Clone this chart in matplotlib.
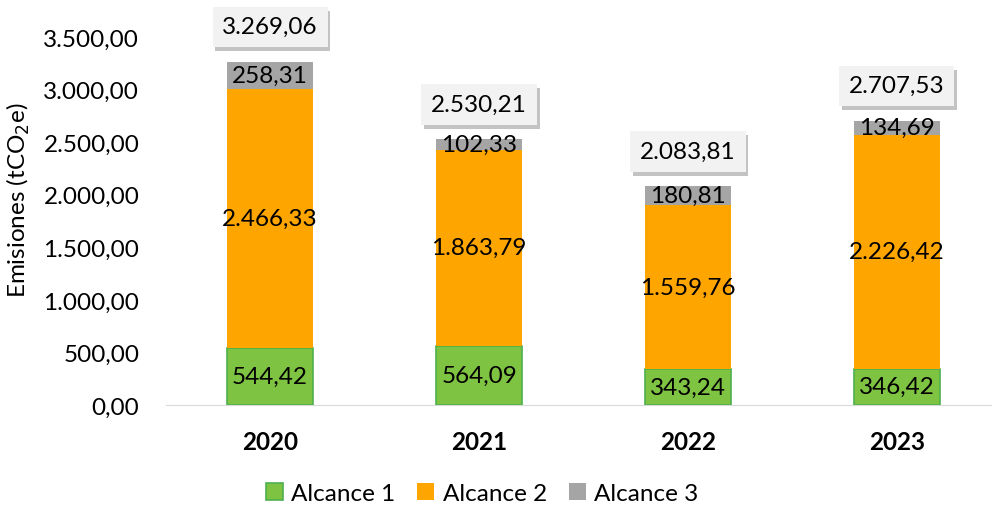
import numpy as np
import matplotlib.pyplot as plt
import matplotlib.patheffects as pe

plt.rcParams['font.family'] = ['Lato', 'DejaVu Sans']

years = ['2020', '2021', '2022', '2023']
alcance1 = [544.42, 564.09, 343.24, 346.42]
alcance2 = [2466.33, 1863.79, 1559.76, 2226.42]
alcance3 = [258.31, 102.33, 180.81, 134.69]
totales = [3269.06, 2530.21, 2083.81, 2707.53]


def es_fmt(v):
    s = f'{v:,.2f}'
    return s.replace(',', 'X').replace('.', ',').replace('X', '.')


fig = plt.figure(figsize=(9.92, 5.10), dpi=100)
ax = fig.add_axes([0.167, 0.204, 0.833, 0.721])

x = np.arange(len(years))
w = 0.41
a1 = np.array(alcance1)
a2 = np.array(alcance2)
a3 = np.array(alcance3)
fs = 17.5

ax.bar(x, a1, w, color='#7ec342', edgecolor='#4eb04e', linewidth=1.2, label='Alcance 1', zorder=3)
ax.bar(x, a2, w, bottom=a1, color='#ffa500', label='Alcance 2', zorder=3)
ax.bar(x, a3, w, bottom=a1 + a2, color='#a5a5a5', label='Alcance 3', zorder=3)

for i in range(len(years)):
    ax.text(x[i], a1[i] / 2, es_fmt(a1[i]), ha='center', va='center', fontsize=fs, zorder=4)
    ax.text(x[i], a1[i] + a2[i] / 2, es_fmt(a2[i]), ha='center', va='center', fontsize=fs, zorder=4)
    ax.text(x[i], a1[i] + a2[i] + a3[i] / 2, es_fmt(a3[i]), ha='center', va='center', fontsize=fs, zorder=4)
    t = ax.annotate(es_fmt(totales[i]), (x[i], totales[i]), xytext=(0, 25), textcoords='offset points',
                    ha='center', va='center', fontsize=fs, zorder=5, annotation_clip=False,
                    bbox=dict(boxstyle='square,pad=0.4', fc='#f2f2f2', ec='none'))
    t.get_bbox_patch().set_path_effects([pe.SimplePatchShadow(offset=(2, -3), shadow_rgbFace='#888888', alpha=0.5),
                                         pe.Normal()])

ax.set_xlim(-0.5, 3.455)
ax.set_ylim(0, 3500)
ax.set_yticks(np.arange(0, 3501, 500))
ax.set_yticklabels([es_fmt(v) for v in np.arange(0, 3501, 500)], fontsize=fs)
ax.set_xticks(x)
ax.set_xticklabels(years, fontsize=fs, fontweight='bold')
ax.tick_params(axis='y', length=0, pad=19)
ax.tick_params(axis='x', length=0, pad=18)
for s in ['top', 'right', 'left']:
    ax.spines[s].set_visible(False)
ax.spines['bottom'].set_color('#d9d9d9')
ax.set_ylabel('Emisiones (tCO$_2$e)', fontsize=fs)
ax.yaxis.set_label_coords(-0.162, 0.56)

ax.legend(loc='center', bbox_to_anchor=(0.383, -0.242), ncol=3, frameon=False, fontsize=fs,
          handlelength=0.7, handleheight=0.7, columnspacing=0.9, handletextpad=0.35)

fig.savefig('out.png', dpi=100)
